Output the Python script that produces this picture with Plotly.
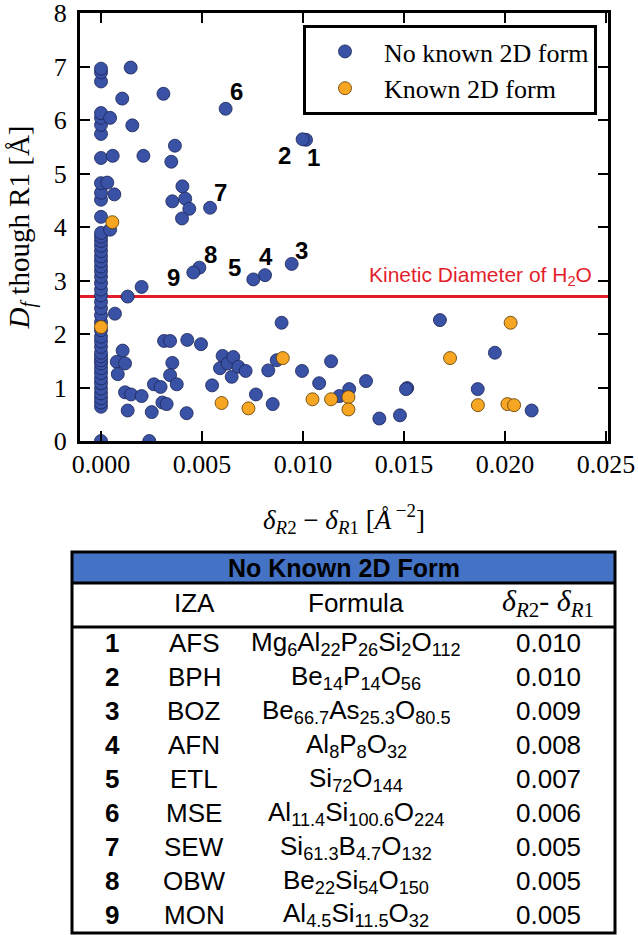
import plotly.graph_objects as go

# ---------------- data ----------------
# "No known 2D form" points (blue), x = delta_R2 - delta_R1 [1/Å^2], y = Df through R1 [Å]
blue_x = [0.0] * 47 + [
    0.00045, 0.00147, 0.00105, 0.00155, 0.00058, 0.00031, 0.00066, 0.0021, 0.00309,
    0.00366, 0.00348, 0.00403, 0.00353, 0.00417, 0.00437, 0.00401, 0.00045,
    0.00069, 0.00132, 0.00201, 0.00894, 0.00107, 0.00078, 0.00119, 0.00083, 0.00119,
    0.00149, 0.00201, 0.00132, 0.00251, 0.00239, 0.00262, 0.00295, 0.00304, 0.00325,
    0.00312, 0.00342, 0.00353, 0.00342, 0.00375, 0.00424, 0.00427, 0.00495, 0.0055,
    0.00602, 0.00589, 0.00627, 0.00655, 0.00647, 0.0068, 0.00716, 0.00767, 0.0085,
    0.00828, 0.0087, 0.00995, 0.0108, 0.01139, 0.0118, 0.01229, 0.01312, 0.01378,
    0.0148, 0.01516, 0.0151, 0.01678, 0.0195, 0.01865, 0.02132]
blue_y = [
    0.0, 0.64, 0.72, 0.80, 0.89, 0.98, 1.08, 1.17, 1.27, 1.36, 1.45, 1.51, 1.58, 1.65,
    1.76, 1.86, 1.95, 2.07, 2.22, 2.35, 2.48, 2.60, 2.72, 2.83, 2.95, 3.07, 3.17, 3.26,
    3.36, 3.45, 3.55, 3.65, 3.74, 3.82, 3.89, 4.19, 4.51, 4.64, 4.82, 5.29, 5.74, 5.91,
    6.04, 6.13, 6.72, 6.89, 6.96] + [
    6.04, 6.98, 6.40, 5.90, 5.33, 4.83, 4.61, 5.33, 6.49,
    5.52, 5.22, 4.76, 4.48, 4.53, 4.34, 4.16, 3.95,
    2.38, 2.70, 2.88, 2.21, 1.69, 1.48, 1.45, 1.25, 0.91,
    0.87, 0.84, 0.57, 0.54, 0.0, 1.06, 1.01, 0.72, 0.69,
    1.87, 1.87, 1.46, 1.23, 1.06, 0.52, 1.89, 1.81, 1.04,
    1.59, 1.36, 1.45, 1.57, 1.20, 1.39, 1.31, 0.87, 0.69,
    1.32, 1.51, 1.31, 1.08, 1.49, 0.84, 0.97, 1.12, 0.42,
    0.48, 0.99, 0.97, 2.26, 1.65, 0.97, 0.57]

# Labelled frameworks (also "no known 2D form")
label_ids = ["1", "2", "3", "4", "5", "6", "7", "8", "9"]
label_x = [0.01015, 0.00998, 0.00944, 0.00812, 0.00754, 0.00617, 0.0054, 0.00487, 0.00457]
label_y = [5.63, 5.64, 3.31, 3.10, 3.02, 6.21, 4.36, 3.24, 3.15]
label_dx = [7, -18, 10, 1, -19, 11, 10, 11, -20]
label_dy = [-18, -16, 13, 19, 12, 17, 15, 13, -5]

# "Known 2D form" points (orange)
orange_x = [0.0, 0.00056, 0.00597, 0.0073, 0.009, 0.01047, 0.01139, 0.01225, 0.01225,
            0.01728, 0.02028, 0.01866, 0.02012, 0.02045]
orange_y = [2.13, 4.09, 0.71, 0.61, 1.55, 0.78, 0.78, 0.82, 0.59,
            1.55, 2.21, 0.67, 0.69, 0.67]

kinetic_diameter_h2o = 2.7

x_ticks = [0.0, 0.005, 0.010, 0.015, 0.020, 0.025]
y_ticks = [0, 1, 2, 3, 4, 5, 6, 7, 8]

# Table
tbl_num = ["1", "2", "3", "4", "5", "6", "7", "8", "9"]
tbl_iza = ["AFS", "BPH", "BOZ", "AFN", "ETL", "MSE", "SEW", "OBW", "MON"]
tbl_formula = [
    "Mg<sub>6</sub>Al<sub>22</sub>P<sub>26</sub>Si<sub>2</sub>O<sub>112</sub>",
    "Be<sub>14</sub>P<sub>14</sub>O<sub>56</sub>",
    "Be<sub>66.7</sub>As<sub>25.3</sub>O<sub>80.5</sub>",
    "Al<sub>8</sub>P<sub>8</sub>O<sub>32</sub>",
    "Si<sub>72</sub>O<sub>144</sub>",
    "Al<sub>11.4</sub>Si<sub>100.6</sub>O<sub>224</sub>",
    "Si<sub>61.3</sub>B<sub>4.7</sub>O<sub>132</sub>",
    "Be<sub>22</sub>Si<sub>54</sub>O<sub>150</sub>",
    "Al<sub>4.5</sub>Si<sub>11.5</sub>O<sub>32</sub>",
]
tbl_delta = ["0.010", "0.010", "0.009", "0.008", "0.007", "0.006", "0.005", "0.005", "0.005"]

# ---------------- styles ----------------
BLUE = "#3a52a6"
ORANGE = "#f7a623"
RED = "#e31e2b"
SERIF = "Liberation Serif, Times New Roman, serif"
SANS = "Liberation Sans, Arial, sans-serif"

W, H = 638, 935
ML, MR, MT, MB = 80, 30, 13, 494
PW = W - ML - MR
PH = H - MT - MB


def fx(px):
    return (px - ML) / PW


def fy(py):
    return (H - MB - py) / PH


fig = go.Figure()
fig.add_trace(go.Scatter(
    x=blue_x + label_x, y=blue_y + label_y, mode="markers", name="No known 2D form",
    marker=dict(size=13, color=BLUE, line=dict(color="#1b2556", width=0.8)),
    cliponaxis=True,
))
fig.add_trace(go.Scatter(
    x=orange_x, y=orange_y, mode="markers", name="Known 2D form",
    marker=dict(size=13, color=ORANGE, line=dict(color="#5a3a00", width=0.8)),
    cliponaxis=True,
))

# number labels
for lid, lx, ly, dx, dy in zip(label_ids, label_x, label_y, label_dx, label_dy):
    fig.add_annotation(x=lx, y=ly, xref="x", yref="y", text=f"<b>{lid}</b>", showarrow=False,
                       xanchor="center", yanchor="middle",
                       xshift=dx, yshift=dy, font=dict(family=SANS, size=24, color="black"))

# kinetic diameter line
fig.add_shape(type="line", xref="paper", yref="y", x0=0, x1=1,
              y0=kinetic_diameter_h2o, y1=kinetic_diameter_h2o,
              line=dict(color=RED, width=3), layer="below")
fig.add_annotation(x=fx(594), y=kinetic_diameter_h2o, xref="paper", yref="y",
                   text="Kinetic Diameter of H<sub>2</sub>O", showarrow=False,
                   xanchor="right", yanchor="middle", yshift=21,
                   font=dict(family=SANS, size=21, color=RED))

axis_common = dict(
    showline=True, linewidth=3, linecolor="black", mirror="ticks",
    ticks="inside", ticklen=10, tickwidth=2, tickcolor="black",
    showgrid=False, zeroline=False, ticklabeloverflow="allow",
    tickfont=dict(family=SERIF, size=26, color="black"),
)

fig.update_xaxes(
    range=[-0.00104, 0.0251], tickvals=x_ticks,
    ticktext=[f"{v:.3f}" for v in x_ticks], ticklabelstandoff=-2,
    title=dict(text="<i>δ</i><sub><i>R</i>2</sub> − <i>δ</i><sub><i>R</i>1</sub> [<i>Å</i><sup> −2</sup>]",
               font=dict(family=SERIF, size=27, color="black"), standoff=32),
    **axis_common,
)
fig.update_yaxes(
    range=[0, 8], tickvals=y_ticks, ticktext=[str(v) for v in y_ticks],
    ticklabelstandoff=5,
    title=dict(text="<i>D<sub>f</sub></i> though R1 [Å]",
               font=dict(family=SERIF, size=29, color="black"), standoff=16),
    **axis_common,
)

# ---------------- table ----------------
T_L, T_R, T_T, T_B = 72, 615, 552, 933
HDR_B, COLHDR_B = 583, 627
fig.add_shape(type="rect", xref="paper", yref="paper", x0=fx(T_L), x1=fx(T_R),
              y0=fy(HDR_B), y1=fy(T_T), fillcolor="#4472c4", line=dict(width=0))
fig.add_shape(type="rect", xref="paper", yref="paper", x0=fx(T_L), x1=fx(T_R),
              y0=fy(T_B), y1=fy(T_T), line=dict(color="black", width=3))
for ly in (HDR_B, COLHDR_B):
    fig.add_shape(type="line", xref="paper", yref="paper", x0=fx(T_L), x1=fx(T_R),
                  y0=fy(ly), y1=fy(ly), line=dict(color="black", width=3))


def table_text(cx, cy, text, family=SANS, size=26):
    fig.add_annotation(x=fx(cx), y=fy(cy), xref="paper", yref="paper", text=text,
                       showarrow=False, xanchor="center", yanchor="middle",
                       font=dict(family=family, size=size, color="black"))


table_text((T_L + T_R) / 2, 568, "<b>No Known 2D Form</b>", size=25)

col_x = [112, 194, 356, 548]
table_text(col_x[1], 603, "IZA")
table_text(col_x[2], 603, "Formula")
table_text(col_x[3], 603, "<i>δ</i><sub><i>R</i>2</sub>- <i>δ</i><sub><i>R</i>1</sub>",
           family=SERIF, size=30)

for i, (n, iza, frm, dv) in enumerate(zip(tbl_num, tbl_iza, tbl_formula, tbl_delta)):
    ry = 643 + 34 * i
    table_text(col_x[0], ry, f"<b>{n}</b>")
    table_text(col_x[1], ry, iza)
    table_text(col_x[2], ry, frm)
    table_text(col_x[3], ry, dv)

fig.update_layout(
    width=W, height=H,
    margin=dict(l=ML, r=MR, t=MT, b=MB, autoexpand=False),
    plot_bgcolor="white", paper_bgcolor="white",
    showlegend=True,
    legend=dict(
        x=fx(303), y=fy(25), xanchor="left", yanchor="top",
        bgcolor="white", bordercolor="black", borderwidth=3,
        font=dict(family=SERIF, size=26, color="black"),
        itemwidth=68, tracegroupgap=0,
    ),
)

fig.write_html("out.html", config={"displayModeBar": False},
               post_script="document.body.style.margin='0';")
